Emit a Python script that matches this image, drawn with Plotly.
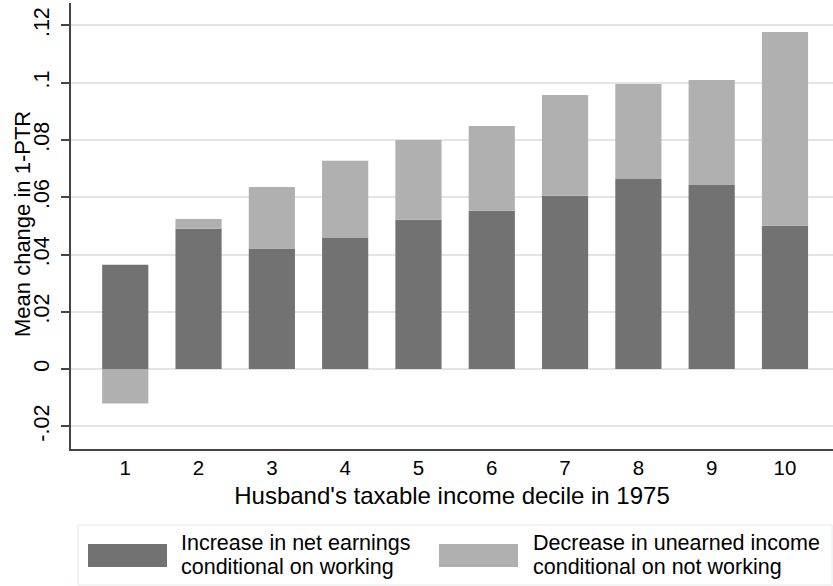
import plotly.graph_objects as go

# Husband's taxable income decile in 1975
deciles = [1, 2, 3, 4, 5, 6, 7, 8, 9, 10]
# Increase in net earnings conditional on working
earnings_gain = [0.0364, 0.0490, 0.0421, 0.0458, 0.0521, 0.0553, 0.0605, 0.0664, 0.0643, 0.0500]
# Decrease in unearned income conditional on not working
unearned_drop = [-0.0120, 0.0034, 0.0215, 0.0269, 0.0279, 0.0296, 0.0352, 0.0331, 0.0366, 0.0677]

y_tickvals = [-0.02, 0, 0.02, 0.04, 0.06, 0.08, 0.10, 0.12]
y_ticktext = ["-.02", "0", ".02", ".04", ".06", ".08", ".1", ".12"]

series_names = ["Increase in net earnings<br>conditional on working",
                "Decrease in unearned income<br>conditional on not working"]

DARK = "#727272"
LIGHT = "#b0b0b0"
FONT = "Liberation Sans, Arial, sans-serif"

W, H = 833, 586
ML, MR, MT, MB = 71, 0, 3, 137
PW, PH = W - ML - MR, H - MT - MB


def px_x(px):
    return (px - ML) / PW


def px_y(py):
    return (H - MB - py) / PH


fig = go.Figure()
fig.add_trace(go.Bar(x=deciles, y=earnings_gain, marker=dict(color=DARK, line=dict(width=0)),
                     width=0.63, name=series_names[0], showlegend=False))
fig.add_trace(go.Bar(x=deciles, y=unearned_drop, marker=dict(color=LIGHT, line=dict(width=0)),
                     width=0.63, name=series_names[1], showlegend=False))

# legend drawn as a framed row under the axis title
shapes = [
    dict(type="rect", xref="paper", yref="paper", x0=px_x(78), x1=px_x(832),
         y0=px_y(585), y1=px_y(525), line=dict(color="#e3eaec", width=1), fillcolor="white"),
    dict(type="rect", xref="paper", yref="paper", x0=px_x(88), x1=px_x(167),
         y0=px_y(567), y1=px_y(544), line=dict(width=0), fillcolor=DARK),
    dict(type="rect", xref="paper", yref="paper", x0=px_x(439), x1=px_x(518),
         y0=px_y(567), y1=px_y(544), line=dict(width=0), fillcolor=LIGHT),
]
annotations = []
for name, x0 in zip(series_names, [179, 531]):
    for line, yc in zip(name.split("<br>"), [543, 567]):
        annotations.append(dict(text=line, xref="paper", yref="paper", x=px_x(x0), y=px_y(yc),
                                xanchor="left", yanchor="middle", showarrow=False,
                                font=dict(size=21.5, color="black", family=FONT)))

# vertical axis title
annotations.append(dict(text="Mean change in 1-PTR", xref="paper", yref="paper",
                        x=px_x(22), y=px_y(224), xanchor="center", yanchor="middle",
                        textangle=-90, showarrow=False,
                        font=dict(size=22, color="black", family=FONT)))

fig.update_layout(
    width=W, height=H,
    margin=dict(l=ML, r=MR, t=MT, b=MB),
    paper_bgcolor="white", plot_bgcolor="white",
    barmode="relative", bargap=0.37,
    font=dict(family=FONT, color="black"),
    shapes=shapes, annotations=annotations,
    showlegend=False,
)
fig.update_xaxes(
    range=[0.26, 10.655], tickvals=deciles, ticktext=[str(d) for d in deciles],
    showgrid=False, zeroline=False, showline=True, linecolor="#444444", linewidth=1.5,
    ticks="", tickfont=dict(size=20.5),
    title=dict(text="Husband's taxable income decile in 1975", font=dict(size=24), standoff=9),
)
fig.update_yaxes(
    range=[-0.0279, 0.1278], tickvals=y_tickvals, ticktext=y_ticktext, tickangle=-90,
    showgrid=True, gridcolor="#e4e4e4", gridwidth=1.5, zeroline=False,
    showline=True, linecolor="#444444", linewidth=1.5,
    ticks="outside", ticklen=8, tickcolor="#444444", tickwidth=1.5, tickfont=dict(size=21.5),
    ticklabelstandoff=4,
)

fig.write_html("out.html")
